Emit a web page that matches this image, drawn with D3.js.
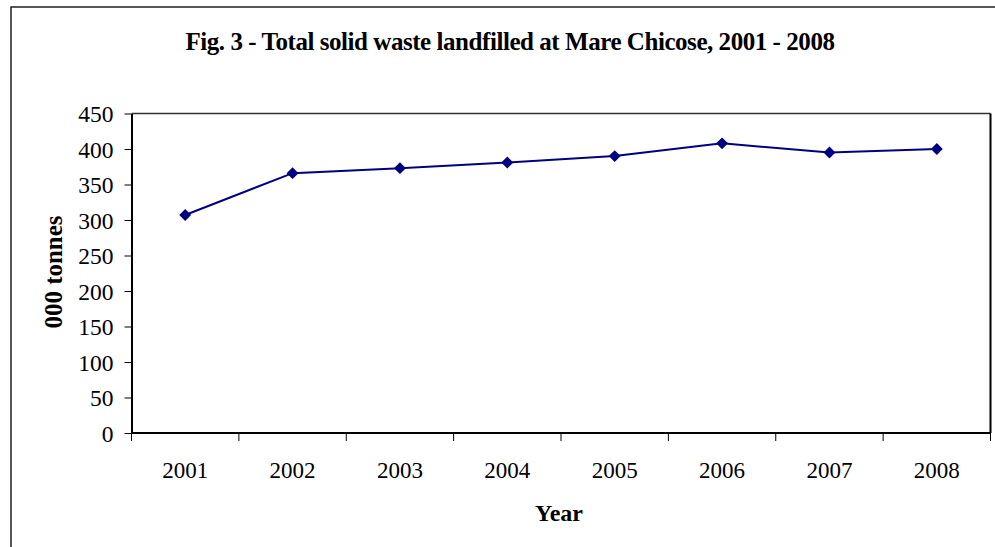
<!DOCTYPE html>
<html>
<head>
<meta charset="utf-8">
<script src="https://cdn.jsdelivr.net/npm/d3@7/dist/d3.min.js"></script>
<style>
  html, body { margin: 0; padding: 0; background: #fff; }
  svg { display: block; }
  text { font-family: "Liberation Serif", "Times New Roman", serif; fill: #000; }
</style>
</head>
<body>
<svg id="chart" width="995" height="547"></svg>
<script>
// Total solid waste landfilled at Mare Chicose ('000 tonnes)
const years = ["2001", "2002", "2003", "2004", "2005", "2006", "2007", "2008"];
const tonnes = [307, 366, 373, 381, 390, 408, 395, 400];
const yTicks = [0, 50, 100, 150, 200, 250, 300, 350, 400, 450];

const titleText = "Fig. 3 - Total solid waste landfilled at Mare Chicose, 2001 - 2008";
const xTitle = "Year";
const yTitle = "000 tonnes";

const svg = d3.select("#chart");
const W = 995, H = 547;
const plot = { left: 131.5, top: 113.5, right: 990.5, bottom: 433 };

// outer chart frame
svg.append("rect")
  .attr("x", 11).attr("y", 7)
  .attr("width", W + 20).attr("height", H + 20)
  .attr("fill", "none").attr("stroke", "#222").attr("stroke-width", 1.5);

const x = d3.scaleBand().domain(years).range([plot.left, plot.right]).paddingInner(0).paddingOuter(0);
const y = d3.scaleLinear().domain([0, 450]).range([plot.bottom, plot.top]);

// plot area border
svg.append("line")
  .attr("x1", plot.left).attr("x2", plot.right)
  .attr("y1", plot.top).attr("y2", plot.top)
  .attr("stroke", "#333").attr("stroke-width", 1.5);
svg.append("line")
  .attr("x1", plot.right).attr("x2", plot.right)
  .attr("y1", plot.top).attr("y2", plot.bottom)
  .attr("stroke", "#000").attr("stroke-width", 2);

// y axis
const yAxis = svg.append("g")
  .attr("transform", `translate(${plot.left},0)`)
  .call(d3.axisLeft(y).tickValues(yTicks).tickSize(7).tickPadding(11).tickSizeOuter(0));
yAxis.select(".domain").attr("stroke", "#000").attr("stroke-width", 2);
yAxis.selectAll(".tick line").attr("stroke", "#000").attr("stroke-width", 1);
yAxis.selectAll(".tick text")
  .style("font-family", "'Liberation Serif', serif").style("font-size", "23.5px")
  .attr("fill", "#000").attr("dy", "0.34em");

// x axis: ticks sit on the category boundaries
const boundaries = years.map(d => x(d)).concat([plot.right]);
const xAxisG = svg.append("g").attr("transform", `translate(0,${plot.bottom})`);
xAxisG.append("line")
  .attr("x1", plot.left).attr("x2", plot.right)
  .attr("y1", 0).attr("y2", 0)
  .attr("stroke", "#000").attr("stroke-width", 2);
xAxisG.selectAll("line.tk").data(boundaries).join("line")
  .attr("class", "tk")
  .attr("x1", d => d).attr("x2", d => d)
  .attr("y1", 0).attr("y2", 8)
  .attr("stroke", "#000").attr("stroke-width", 1);
xAxisG.selectAll("text.lbl").data(years).join("text")
  .attr("class", "lbl")
  .attr("x", d => x(d) + x.bandwidth() / 2)
  .attr("y", 45)
  .attr("text-anchor", "middle")
  .style("font-size", "23px")
  .text(d => d);

// data line
const cx = (d, i) => x(years[i]) + x.bandwidth() / 2;
const line = d3.line().x((d, i) => cx(d, i)).y(d => y(d));
svg.append("path")
  .datum(tonnes)
  .attr("d", line)
  .attr("fill", "none")
  .attr("stroke", "#000080")
  .attr("stroke-width", 2);

// diamond markers
svg.selectAll("path.marker").data(tonnes).join("path")
  .attr("class", "marker")
  .attr("d", d3.symbol().type(d3.symbolDiamond2).size(90))
  .attr("transform", (d, i) => `translate(${cx(d, i)},${y(d)})`)
  .attr("fill", "#000080");

// titles
svg.append("text")
  .attr("x", 510).attr("y", 50)
  .attr("text-anchor", "middle")
  .style("font-size", "25px").style("font-weight", "bold")
  .style("letter-spacing", "-0.45px")
  .text(titleText);

svg.append("text")
  .attr("x", 559).attr("y", 521)
  .attr("text-anchor", "middle")
  .style("font-size", "24px").style("font-weight", "bold")
  .text(xTitle);

svg.append("text")
  .attr("transform", "translate(62,272) rotate(-90)")
  .attr("text-anchor", "middle")
  .style("font-size", "25px").style("font-weight", "bold")
  .text(yTitle);
</script>
</body>
</html>
